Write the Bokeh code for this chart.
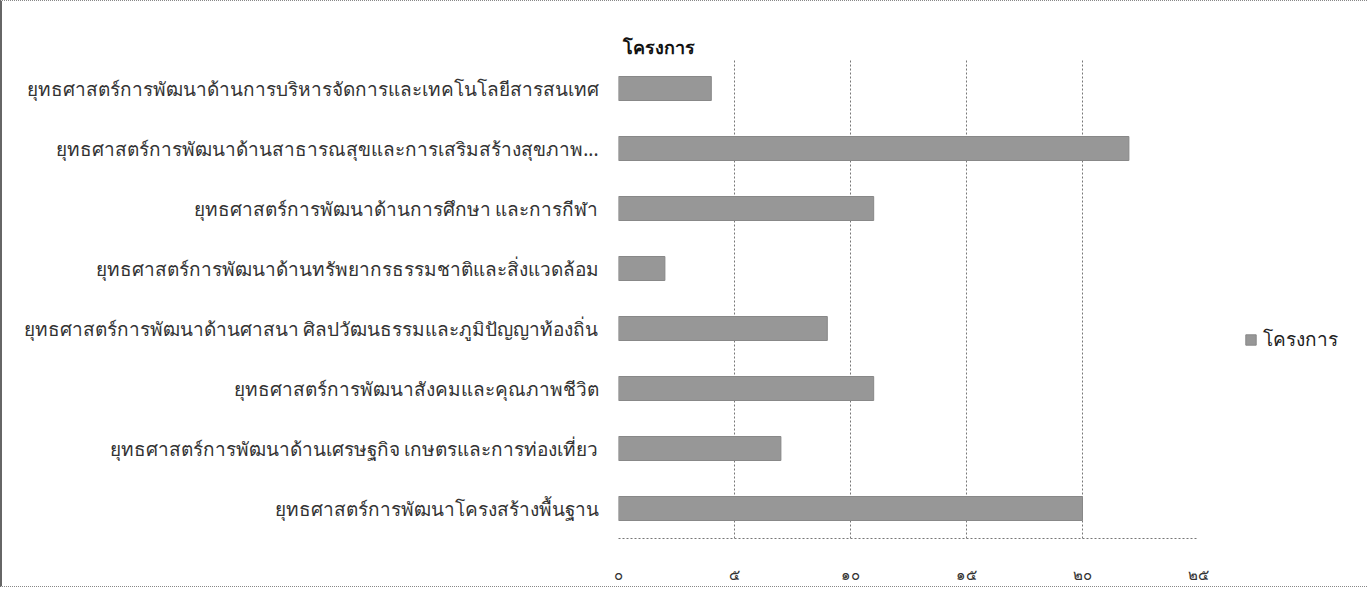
from bokeh.plotting import figure
from bokeh.models import FactorRange, Legend, LegendItem, ColumnDataSource
from bokeh.embed import file_html
from bokeh.resources import INLINE

categories = [
    "ยุทธศาสตร์การพัฒนาด้านการบริหารจัดการและเทคโนโลยีสารสนเทศ",
    "ยุทธศาสตร์การพัฒนาด้านสาธารณสุขและการเสริมสร้างสุขภาพ...",
    "ยุทธศาสตร์การพัฒนาด้านการศึกษา และการกีฬา",
    "ยุทธศาสตร์การพัฒนาด้านทรัพยากรธรรมชาติและสิ่งแวดล้อม",
    "ยุทธศาสตร์การพัฒนาด้านศาสนา ศิลปวัฒนธรรมและภูมิปัญญาท้องถิ่น",
    "ยุทธศาสตร์การพัฒนาสังคมและคุณภาพชีวิต",
    "ยุทธศาสตร์การพัฒนาด้านเศรษฐกิจ เกษตรและการท่องเที่ยว",
    "ยุทธศาสตร์การพัฒนาโครงสร้างพื้นฐาน",
]
projects = [4, 22, 11, 2, 9, 11, 7, 20]
series_name = "โครงการ"
tick_values = [0, 5, 10, 15, 20, 25]
tick_labels = ["๐", "๕", "๑๐", "๑๕", "๒๐", "๒๕"]

FONT = "Noto Sans"

p = figure(
    frame_width=580, frame_height=480,
    y_range=FactorRange(*reversed(categories)),
    x_range=(0, 25),
    output_backend="svg", toolbar_location=None,
    min_border_left=616, min_border_right=120,
    min_border_top=57, min_border_bottom=46,
    title=series_name,
)
p.styles = {"border-top": "1px dotted #888", "border-bottom": "1px dotted #888",
            "border-left": "2px solid #666"}

src = ColumnDataSource(dict(cat=categories, val=projects))
r = p.hbar(y="cat", right="val", left=0, height=0.4, source=src,
           fill_color="#979797", line_color="#888888", line_width=1)

p.title.text_font = FONT
p.title.text_font_size = "18px"
p.title.text_font_style = "bold"
p.title.text_color = "#111111"
p.title.align = "left"
p.title.offset = 4
p.title.standoff = 0

p.outline_line_color = None
p.background_fill_color = "white"

p.xgrid.grid_line_color = "#777777"
p.xgrid.grid_line_dash = "2 2"
p.xgrid.grid_line_width = 1
p.ygrid.grid_line_color = None

p.xaxis.ticker = tick_values
p.xaxis.major_label_overrides = {v: l for v, l in zip(tick_values, tick_labels)}
p.xaxis.axis_line_color = "#777777"
p.xaxis.axis_line_dash = "2 2"
p.xaxis.major_tick_line_color = None
p.xaxis.minor_tick_line_color = None
p.xaxis.major_label_standoff = 19
p.xaxis.major_label_text_font = FONT
p.xaxis.major_label_text_font_size = "15px"
p.xaxis.major_label_text_font_style = "normal"
p.xaxis.major_label_text_color = "#333333"

p.yaxis.axis_line_color = None
p.yaxis.major_tick_line_color = None
p.yaxis.minor_tick_line_color = None
p.yaxis.major_label_standoff = 14
p.yaxis.major_label_text_font = FONT
p.yaxis.major_label_text_font_size = "19px"
p.yaxis.major_label_text_font_style = "normal"
p.yaxis.major_label_text_color = "#333333"

legend = Legend(items=[LegendItem(label=series_name, renderers=[r])],
                location=(46, 184), border_line_color=None,
                background_fill_alpha=0, margin=26, padding=14,
                label_text_font=FONT, label_text_font_size="19px",
                label_text_color="#222222",
                glyph_width=13, glyph_height=13, label_standoff=6)
p.add_layout(legend, "right")

open("out.html", "w").write(file_html(p, INLINE))
